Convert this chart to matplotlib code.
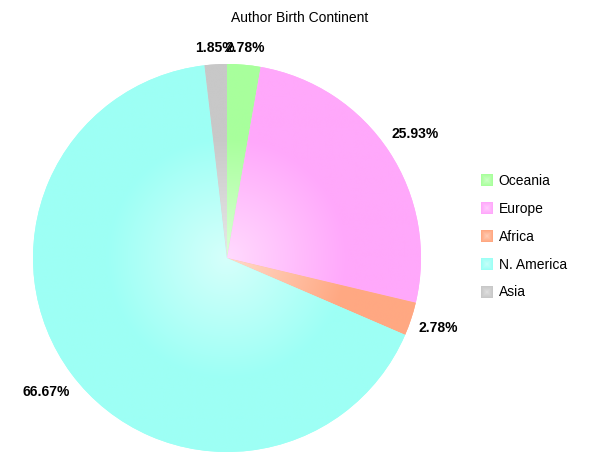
import numpy as np
import matplotlib
matplotlib.use("Agg")
import matplotlib.pyplot as plt
from matplotlib.patches import Patch, Rectangle
from matplotlib.legend_handler import HandlerBase

categories = ["Oceania", "Europe", "Africa", "N. America", "Asia"]
counts = [3, 28, 3, 72, 2]
colors = ["#a8ff9c", "#ffa8fb", "#ffa882", "#9dfff5", "#c8c8c8"]
title = "Author Birth Continent"

plt.rcParams['font.family'] = ['Liberation Sans', 'DejaVu Sans']

W, H = 600, 463
fig = plt.figure(figsize=(W / 100, H / 100), dpi=100)
ax = fig.add_axes([0, 0, 1, 1])

cx, cy, R = 227, H - 258, 194
total = sum(counts)
pct_labels = [f"{100 * c / total:.2f}%" for c in counts]

wedges, texts = ax.pie(counts, labels=pct_labels, startangle=90, counterclock=False,
                       center=(cx, cy), radius=R, labeldistance=1.07,
                       textprops=dict(fontsize=10, fontweight='bold', color='black'),
                       wedgeprops=dict(linewidth=0))

# radial gradient fill clipped to each wedge
n = 400
yy, xx = np.mgrid[-1:1:n * 1j, -1:1:n * 1j]
rr = np.sqrt(xx ** 2 + yy ** 2)
wmix = np.clip(0.58 * (1 - rr / 0.62), 0, 1)[..., None]
for w, col in zip(wedges, colors):
    rgb = np.array(matplotlib.colors.to_rgb(col))
    img = wmix * 1.0 + (1 - wmix) * rgb[None, None, :]
    w.set_facecolor(col)
    im = ax.imshow(img, extent=(cx - R, cx + R, cy - R, cy + R), origin='lower',
                   interpolation='bilinear', zorder=2)
    im.set_clip_path(w)

ax.set_xlim(0, W)
ax.set_ylim(0, H)
ax.set_aspect('equal')
ax.axis('off')

# place labels: text centre pushed outward so its box clears the rim
fig.canvas.draw()
renderer = fig.canvas.get_renderer()
pad = 8
for w, t in zip(wedges, texts):
    ang = np.deg2rad((w.theta1 + w.theta2) / 2)
    bb = t.get_window_extent(renderer)
    hw, hh = bb.width / 2, bb.height / 2
    c, s = np.cos(ang), np.sin(ang)
    d = R + pad + hw * abs(c) + hh * abs(s)
    t.set_position((cx + d * c, cy + d * s))
    t.set_ha('center')
    t.set_va('center')
    t.set_zorder(5)

fig.text(0.5, 1 - 18 / H, title, ha='center', va='center', fontsize=10)


class GradientSquare(HandlerBase):
    def create_artists(self, legend, orig_handle, xdescent, ydescent,
                       width, height, fontsize, trans):
        rgb = np.array(matplotlib.colors.to_rgb(orig_handle.get_facecolor()))
        side = min(width, height)
        x0 = -xdescent + (width - side) / 2
        y0 = -ydescent + (height - side) / 2
        arts = []
        steps = 6
        for i in range(steps):
            f = i / steps
            sz = side * (1 - f)
            mix = 0.45 * f
            col = mix + (1 - mix) * rgb
            r = Rectangle((x0 + (side - sz) / 2, y0 + (side - sz) / 2), sz, sz,
                          facecolor=col, edgecolor='none', transform=trans)
            arts.append(r)
        return arts


handles = [Patch(facecolor=c, edgecolor='none') for c in colors]
leg = fig.legend(handles, categories, loc='upper left',
                 bbox_to_anchor=(473 / W, 1 - 167 / H), frameon=False,
                 fontsize=10, handlelength=0.95, handleheight=0.95,
                 handletextpad=0.4, labelspacing=1.0, borderpad=0,
                 handler_map={Patch: GradientSquare()})

fig.savefig("out.png", dpi=100)
